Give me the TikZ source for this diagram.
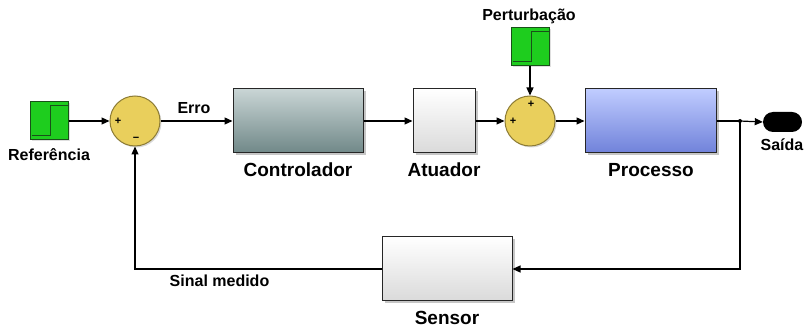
\documentclass[tikz,border=0pt]{standalone}
\usepackage{fontspec}
\setmainfont{Liberation Sans}
\usetikzlibrary{arrows.meta,shadows,shapes.misc}
\definecolor{stepgreen}{RGB}{30,205,30}
\definecolor{stepborder}{RGB}{25,80,25}
\definecolor{sumfill}{RGB}{233,207,92}
\definecolor{sumborder}{RGB}{140,123,52}
\definecolor{ctrltop}{RGB}{201,213,213}
\definecolor{ctrlbot}{RGB}{112,136,136}
\definecolor{proctop}{RGB}{192,204,255}
\definecolor{procbot}{RGB}{112,130,218}
\definecolor{graybot}{RGB}{218,218,218}
\begin{document}
\begin{tikzpicture}[x=1pt,y=-1pt,
  blk/.style={draw=black!85,line width=1pt,minimum width=130pt,minimum height=64pt,inner sep=0pt,
    drop shadow={shadow xshift=2.5pt,shadow yshift=-2.5pt,opacity=0.45}},
  stepicon/.style={draw=stepborder,fill=stepgreen,line width=1pt,minimum width=38pt,minimum height=38pt,inner sep=0pt,
    drop shadow={shadow xshift=1.5pt,shadow yshift=-1.5pt,opacity=0.25}},
  stepline/.style={draw=stepborder,line width=1pt},
  sumnode/.style={circle,draw=sumborder,fill=sumfill,line width=1pt,minimum size=50pt,inner sep=0pt,
    drop shadow={shadow xshift=1.5pt,shadow yshift=-1.5pt,opacity=0.3}},
  sign/.style={font=\fontsize{11}{12}\selectfont\bfseries,inner sep=0pt},
  small/.style={font=\fontsize{16}{18}\selectfont\bfseries,inner sep=0pt},
  big/.style={font=\fontsize{19}{21}\selectfont\bfseries,inner sep=0pt},
  wire/.style={line width=1.2pt,draw=black},
  arr/.style={wire,-{Triangle[length=8pt,width=7pt]}}
]
\useasboundingbox (0,0) rectangle (808,328);

% sources
\node[stepicon] (ref) at (49,121) {};
\draw[stepline] ([shift={(2,-5)}]ref.south west) -- ([shift={(1,-5)}]ref.south) -- ([shift={(1,4)}]ref.north) -- ([shift={(-1,4)}]ref.north east);
\node[small] (reflbl) at (49,155) {Referência};

\node[stepicon] (pert) at (530,47) {};
\draw[stepline] ([shift={(2,-5)}]pert.south west) -- ([shift={(1,-5)}]pert.south) -- ([shift={(1,4)}]pert.north) -- ([shift={(-1,4)}]pert.north east);
\node[small,anchor=base] (pertlbl) at (529,21) {Perturbação};

% sums
\node[sumnode] (sum1) at (135,121) {};
\node[sign] (s1p) at (118,121) {+};
\node[sign] (s1m) at (136,139) {\textminus};
\node[sumnode] (sum2) at (530,121) {};
\node[sign] (s2p) at (513,121) {+};
\node[sign] (s2t) at (531,104) {+};

% blocks
\node[blk,top color=ctrltop,bottom color=ctrlbot] (ctrl) at (298,121) {};
\node[big] (ctrllbl) at (298,170) {Controlador};
\node[blk,minimum width=62pt,top color=white,bottom color=graybot] (atu) at (444,121) {};
\node[big] (atulbl) at (444,170) {Atuador};
\node[blk,minimum width=131pt,top color=proctop,bottom color=procbot] (proc) at (650.5,121) {};
\node[big] (proclbl) at (651,170) {Processo};
\node[blk,top color=white,bottom color=graybot] (sens) at (447,269) {};
\node[big] (senslbl) at (447,318) {Sensor};

% output
\coordinate (jn) at (740,121);
\node[rounded rectangle,fill=black,minimum width=39pt,minimum height=20pt,inner sep=0pt] (saida) at (782.5,122) {};
\node[small] (saidalbl) at (782,145) {Saída};

% wiring
\draw[arr] (ref.east) -- (sum1.west);
\draw[arr] (sum1.east) -- (ctrl.west);
\node[small] (errolbl) at (194,108) {Erro};
\draw[arr] (ctrl.east) -- (atu.west);
\draw[arr] (atu.east) -- (sum2.west);
\draw[arr] (pert.south) -- (sum2.north);
\draw[arr] (sum2.east) -- (proc.west);
\draw[wire] (proc.east) -- (jn);
\fill (jn) circle (2pt);
\draw[arr] (jn) -- (saida.west);
\draw[arr] (jn) |- (sens.east);
\draw[arr] (sens.west) -| (sum1.south);
\node[small] (sinallbl) at (219.5,281) {Sinal medido};
\end{tikzpicture}
\end{document}
